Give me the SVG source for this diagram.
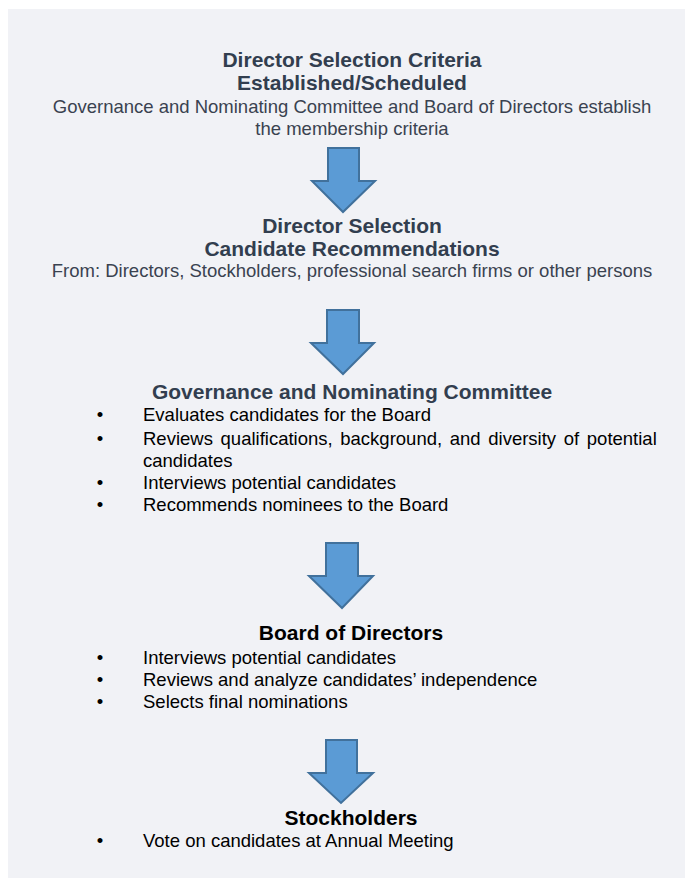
<svg xmlns="http://www.w3.org/2000/svg" width="686" height="878" viewBox="0 0 686 878">
<defs>
<style>
.h{font-family:"Liberation Sans",Arial,sans-serif;font-weight:bold;font-size:21px;fill:#323E4F;text-anchor:middle}
.hk{font-family:"Liberation Sans",Arial,sans-serif;font-weight:bold;font-size:21px;fill:#000;text-anchor:middle}
.s{font-family:"Liberation Sans",Arial,sans-serif;font-size:18.5px;fill:#3A4250;text-anchor:middle}
.b{font-family:"Liberation Sans",Arial,sans-serif;font-size:18.5px;fill:#000}
.d{font-family:"Liberation Sans",Arial,sans-serif;font-size:18.5px;fill:#000;text-anchor:middle}
.arr{fill:#5B9BD5;stroke:#41719C;stroke-width:2;stroke-linejoin:miter}
</style>
</defs>
<rect x="8" y="9" width="677" height="869" fill="#F1F2F6"/>
<g id="connectors">
<polygon class="arr" points="328,148 359,148 359,181 375,181 343,212 312,181 328,181"/>
<polygon class="arr" points="327,310 359,310 359,343 374,343 343,374 311,343 327,343"/>
<polygon class="arr" points="326,543 358,543 358,576 373,576 342,608 309,576 326,576"/>
<polygon class="arr" points="326,740 357,740 357,773 373,773 341,803 309,773 326,773"/>
</g>
<g id="criteria">
<text class="h" x="352" y="67">Director Selection Criteria</text>
<text class="h" x="352" y="90">Established/Scheduled</text>
<text class="s" x="352" y="113">Governance and Nominating Committee and Board of Directors establish</text>
<text class="s" x="352" y="135">the membership criteria</text>
</g>
<g id="recommendations">
<text class="h" x="352" y="233">Director Selection</text>
<text class="h" x="352" y="256">Candidate Recommendations</text>
<text class="s" x="352" y="277">From: Directors, Stockholders, professional search firms or other persons</text>
</g>
<g id="committee">
<text class="h" x="352" y="399">Governance and Nominating Committee</text>
<text class="d" x="100" y="421">•</text>
<text class="b" x="143" y="421">Evaluates candidates for the Board</text>
<text class="d" x="100" y="445">•</text>
<text class="b" x="143" y="445" word-spacing="2.5">Reviews qualifications, background, and diversity of potential</text>
<text class="b" x="143" y="467">candidates</text>
<text class="d" x="100" y="489">•</text>
<text class="b" x="143" y="489">Interviews potential candidates</text>
<text class="d" x="100" y="511">•</text>
<text class="b" x="143" y="511">Recommends nominees to the Board</text>
</g>
<g id="board">
<text class="hk" x="351" y="640">Board of Directors</text>
<text class="d" x="100" y="664">•</text>
<text class="b" x="143" y="664">Interviews potential candidates</text>
<text class="d" x="100" y="686">•</text>
<text class="b" x="143" y="686">Reviews and analyze candidates’ independence</text>
<text class="d" x="100" y="708">•</text>
<text class="b" x="143" y="708">Selects final nominations</text>
</g>
<g id="stockholders">
<text class="hk" x="351" y="825">Stockholders</text>
<text class="d" x="100" y="847">•</text>
<text class="b" x="143" y="847">Vote on candidates at Annual Meeting</text>
</g>
</svg>
